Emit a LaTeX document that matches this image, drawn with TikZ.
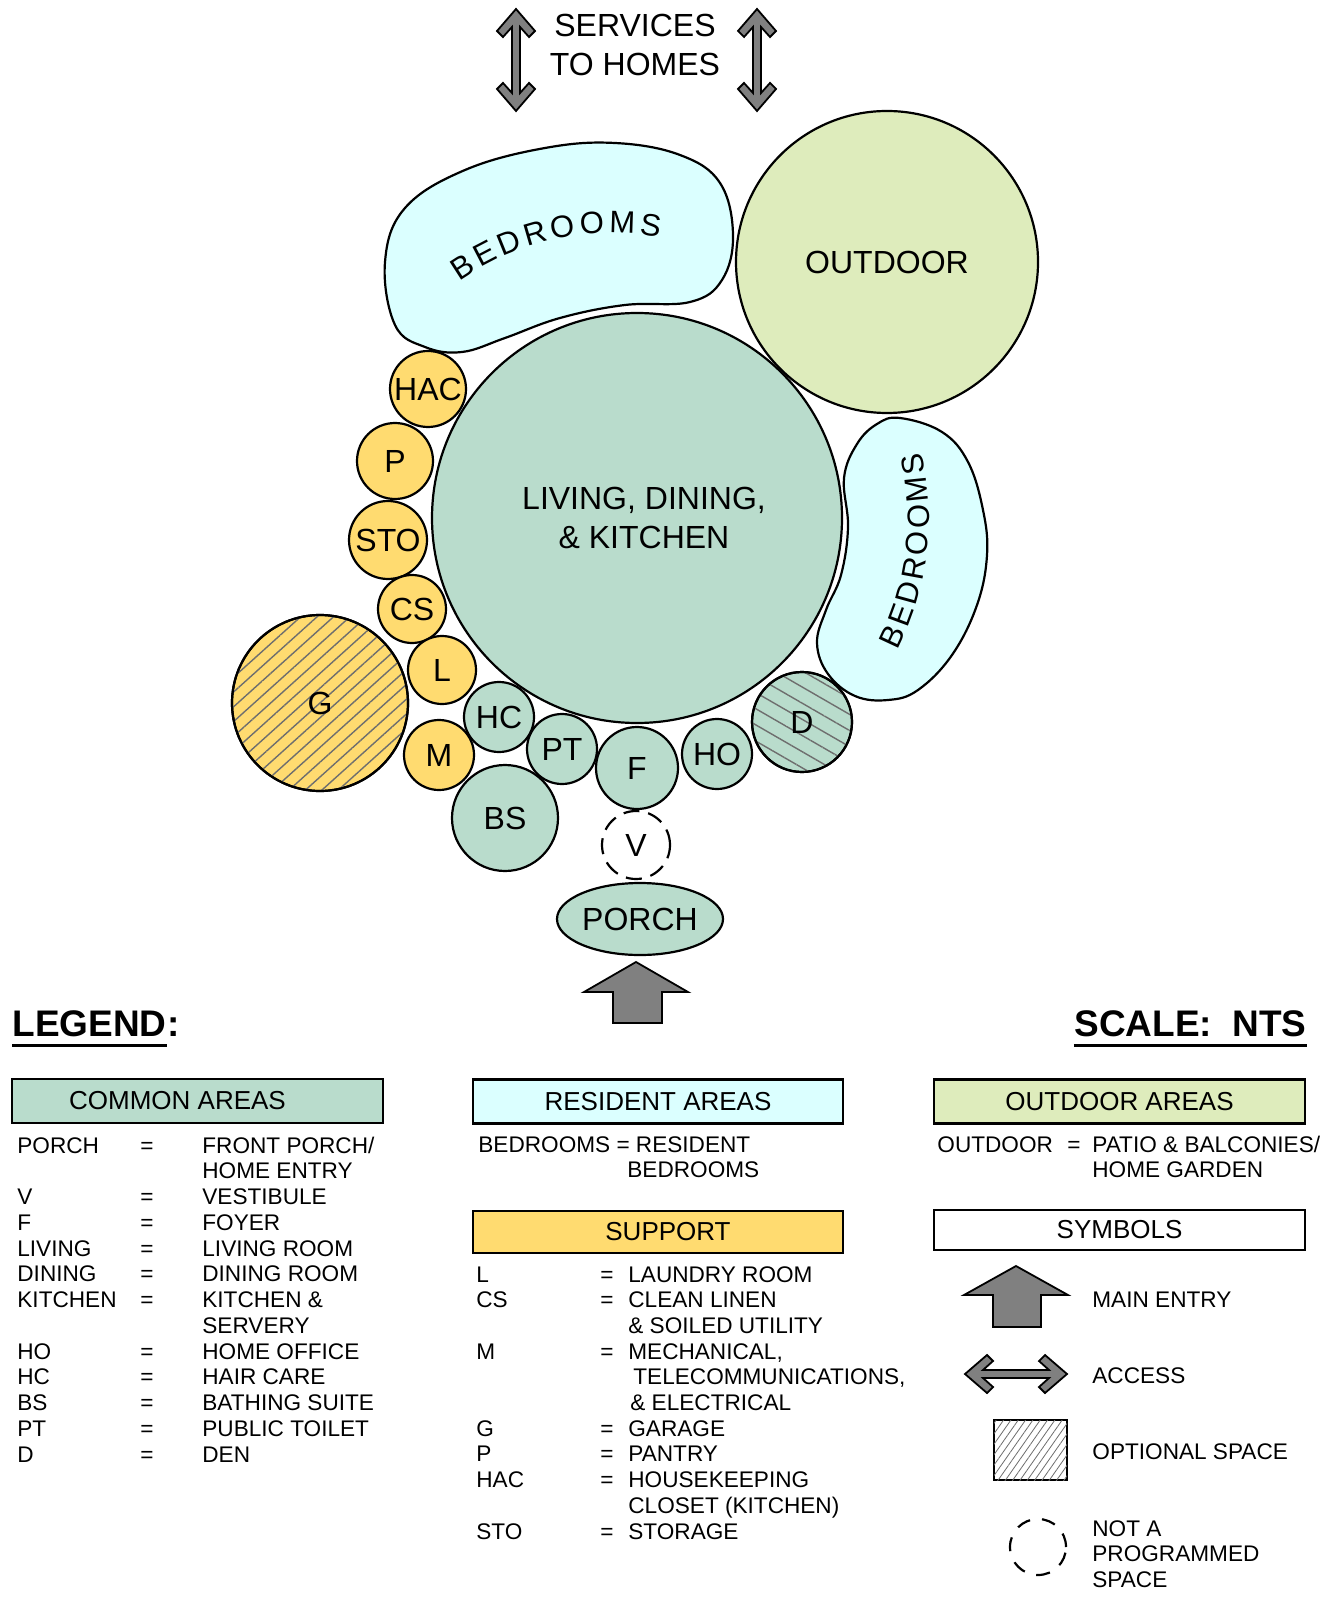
\documentclass[tikz,border=0pt]{standalone}
\usepackage{fontspec}
\setmainfont{Liberation Sans}
\usepackage{tikz}
\usetikzlibrary{positioning, shapes.geometric, patterns.meta, decorations.text}
\usepackage{xcolor}

\definecolor{commongreen}{RGB}{185,220,204}
\definecolor{residentblue}{RGB}{219,255,255}
\definecolor{outdoorgreen}{RGB}{222,236,188}
\definecolor{supportyellow}{RGB}{255,219,112}
\definecolor{arrowgray}{RGB}{128,128,128}
\definecolor{hatchgray}{RGB}{110,110,110}

\tikzset{
    bubble/.style={draw, line width=1.1pt, inner sep=0pt, font=\fontsize{16}{19.5}\selectfont},
    common/.style={bubble, circle, fill=commongreen},
    support/.style={bubble, circle, fill=supportyellow},
    hatched/.style 2 args={postaction={pattern={Lines[angle=#1, distance=#2, line width=0.7pt]}, pattern color=hatchgray, draw}},
    notprogrammed/.style={bubble, circle, dash pattern=on 8pt off 4.5pt},
    resident/.style={draw, line width=1.1pt, fill=residentblue},
    arrowshape/.style={draw, line width=0.9pt, fill=arrowgray, line join=miter},
    legendhead/.style={draw, line width=1.2pt, minimum height=22pt, inner sep=0pt, font=\fontsize{13}{15}\selectfont},
    legtext/.style={anchor=base west, inner sep=0pt, font=\fontsize{11.3}{13}\selectfont},
    symtext/.style={anchor=west, inner sep=0pt, align=left, font=\fontsize{11.3}{12.85}\selectfont},
    titletext/.style={inner sep=0pt, font=\bfseries\fontsize{18.5}{22}\selectfont},
    bedtext/.style={decorate, decoration={text along path, text align=fit to path, text={|\fontsize{15.5}{15.5}\selectfont|BEDROOMS}}}
}

\begin{document}
\begin{tikzpicture}[x=0.5pt, y=-0.5pt]
        \path[use as bounding box, fill=white] (0,0) rectangle (1325,1598);

        %coordinates
        \coordinate (svcleft)   at (516,60);
        \coordinate (svcright)  at (757,60);
        \coordinate (entrytip)  at (636,962);
        \coordinate (entrysym)  at (1016,1266);
        \coordinate (accesssym) at (1016,1374);

        %services arrows
        \node[bubble, draw=none, align=center] (services) at (635,45) {SERVICES\\TO HOMES};
        \draw[arrowshape, shift={(svcleft)}] (0,-51) -- (19,-29) -- (13,-23) -- (4,-33) -- (4,33) -- (13,23) -- (19,29) -- (0,51) -- (-19,29) -- (-13,23) -- (-4,33) -- (-4,-33) -- (-13,-23) -- (-19,-29) -- cycle;
        \draw[arrowshape, shift={(svcright)}] (0,-51) -- (19,-29) -- (13,-23) -- (4,-33) -- (4,33) -- (13,23) -- (19,29) -- (0,51) -- (-19,29) -- (-13,23) -- (-4,33) -- (-4,-33) -- (-13,-23) -- (-19,-29) -- cycle;

        %bedrooms
        \draw[resident] plot[smooth cycle, tension=0.65] coordinates {(385,262) (405,208) (465,170) (545,148) (615,143) (680,155) (720,183) (733,235) (722,280) (690,302) (625,305) (560,318) (505,338) (462,352) (425,347) (395,325)};
        \path[bedtext] (613,501) ++(-125:268) arc[start angle=-125, end angle=-80, radius=268];
        \draw[resident] plot[smooth cycle, tension=0.65] coordinates {(900,418) (942,432) (968,462) (983,510) (987,555) (977,605) (952,655) (918,690) (888,700) (855,696) (828,674) (817,643) (826,610) (841,575) (848,527) (844,478) (857,444) (877,424)};
        \path[bedtext] (637,518) ++(27:292) arc[start angle=27, end angle=-13, radius=292];

        %nodes
        \node[bubble, circle, fill=outdoorgreen, minimum size=151pt] (outdoor) at (887,262) {OUTDOOR};
        \node[common, minimum size=205pt, align=center] (living) at (637,518) {\hspace*{7pt}LIVING, DINING,\\\hspace*{7pt}\& KITCHEN};

        \node[support, minimum size=38pt] (hac) at (428,389) {HAC};
        \node[support, minimum size=38pt] (pantry) at (395,461) {P};
        \node[support, minimum size=39pt] (sto) at (388,540) {STO};
        \node[support, minimum size=34pt] (cs) at (412,609) {CS};
        \node[support, minimum size=34pt] (laundry) at (442,670) {L};
        \node[support, minimum size=88pt, hatched={42}{5.5pt}] (garage) at (320,703) {G};
        \node[support, minimum size=35pt] (mech) at (439,755) {M};

        \node[common, minimum size=35pt] (haircare) at (499,717) {HC};
        \node[common, minimum size=35pt] (ptoilet) at (562,749) {PT};
        \node[common, minimum size=41pt] (foyer) at (637,768) {F};
        \node[common, minimum size=35pt] (homeoffice) at (717,754) {HO};
        \node[common, minimum size=50pt, hatched={-30}{7pt}] (den) at (802,722) {D};
        \node[common, minimum size=53pt] (bath) at (505,818) {BS};
        \node[notprogrammed, minimum size=34pt] (vest) at (636,845) {V};
        \node[bubble, ellipse, fill=commongreen, minimum width=83pt, minimum height=36pt] (porch) at (640,919) {PORCH};

        %main entry
        \draw[arrowshape] (entrytip) -- ++(52,30) -- ++(-26,0) -- ++(0,31) -- ++(-49,0) -- ++(0,-31) -- ++(-29,0) -- cycle;

        %legend titles
        \node[titletext, anchor=base west, text depth=4.5pt] (legword) at (12,1036) {LEGEND};
        \node[titletext, anchor=base west] (legcolon) at (legword.base east) {:};
        \draw[line width=1.5pt] (legword.south west) -- (legword.south east);
        \node[titletext, anchor=base east, text depth=4.5pt] (scale) at (1307,1036) {SCALE:\ \ NTS};
        \draw[line width=1.5pt] (scale.south west) -- (scale.south east);

        %common areas
        \node[legendhead, fill=commongreen, minimum width=185.5pt] (commonhead) at (197.5,1101) {\hspace*{-20pt}COMMON AREAS};
        \node[legtext] (cporch) at (17,1153) {\makebox[61.5pt][l]{PORCH}\makebox[31pt][l]{=}FRONT PORCH/};
        \node[legtext] (cporch2) at (202,1178.75) {HOME ENTRY};
        \node[legtext] (cvest) at (17,1204.5) {\makebox[61.5pt][l]{V}\makebox[31pt][l]{=}VESTIBULE};
        \node[legtext] (cfoyer) at (17,1230.25) {\makebox[61.5pt][l]{F}\makebox[31pt][l]{=}FOYER};
        \node[legtext] (cliving) at (17,1256) {\makebox[61.5pt][l]{LIVING}\makebox[31pt][l]{=}LIVING ROOM};
        \node[legtext] (cdining) at (17,1281.75) {\makebox[61.5pt][l]{DINING}\makebox[31pt][l]{=}DINING ROOM};
        \node[legtext] (ckitchen) at (17,1307.5) {\makebox[61.5pt][l]{KITCHEN}\makebox[31pt][l]{=}KITCHEN \&};
        \node[legtext] (ckitchen2) at (202,1333.25) {SERVERY};
        \node[legtext] (chome) at (17,1359) {\makebox[61.5pt][l]{HO}\makebox[31pt][l]{=}HOME OFFICE};
        \node[legtext] (chair) at (17,1384.75) {\makebox[61.5pt][l]{HC}\makebox[31pt][l]{=}HAIR CARE};
        \node[legtext] (cbath) at (17,1410.5) {\makebox[61.5pt][l]{BS}\makebox[31pt][l]{=}BATHING SUITE};
        \node[legtext] (ctoilet) at (17,1436.25) {\makebox[61.5pt][l]{PT}\makebox[31pt][l]{=}PUBLIC TOILET};
        \node[legtext] (cden) at (17,1462) {\makebox[61.5pt][l]{D}\makebox[31pt][l]{=}DEN};

        %resident areas
        \node[legendhead, fill=residentblue, minimum width=185pt] (residenthead) at (658,1101.5) {RESIDENT AREAS};
        \node[legtext] (rbed) at (478,1152) {BEDROOMS = RESIDENT};
        \node[legtext] (rbed2) at (627,1177) {BEDROOMS};

        %support
        \node[legendhead, fill=supportyellow, minimum width=185pt, minimum height=21pt] (supporthead) at (658,1232) {\hspace*{10pt}SUPPORT};
        \node[legtext] (slaundry) at (476,1282) {\makebox[62pt][l]{L}\makebox[14pt][l]{=}LAUNDRY ROOM};
        \node[legtext] (scs) at (476,1307.7) {\makebox[62pt][l]{CS}\makebox[14pt][l]{=}CLEAN LINEN};
        \node[legtext] (scs2) at (628,1333.4) {\& SOILED UTILITY};
        \node[legtext] (smech) at (476,1359.1) {\makebox[62pt][l]{M}\makebox[14pt][l]{=}MECHANICAL,};
        \node[legtext] (smech2) at (633,1384.8) {TELECOMMUNICATIONS,};
        \node[legtext] (smech3) at (630,1410.5) {\& ELECTRICAL};
        \node[legtext] (sgarage) at (476,1436.2) {\makebox[62pt][l]{G}\makebox[14pt][l]{=}GARAGE};
        \node[legtext] (spantry) at (476,1461.9) {\makebox[62pt][l]{P}\makebox[14pt][l]{=}PANTRY};
        \node[legtext] (shac) at (476,1487.6) {\makebox[62pt][l]{HAC}\makebox[14pt][l]{=}HOUSEKEEPING};
        \node[legtext] (shac2) at (628,1513.3) {CLOSET (KITCHEN)};
        \node[legtext] (ssto) at (476,1539) {\makebox[62pt][l]{STO}\makebox[14pt][l]{=}STORAGE};

        %outdoor areas
        \node[legendhead, fill=outdoorgreen, minimum width=185.5pt] (outdoorhead) at (1119.5,1101.5) {OUTDOOR AREAS};
        \node[legtext] (ooutdoor) at (937,1152) {\makebox[65pt][l]{OUTDOOR}\makebox[12.5pt][l]{=}PATIO \& BALCONIES/};
        \node[legtext] (ooutdoor2) at (1092,1177) {HOME GARDEN};

        %symbols
        \node[legendhead, fill=white, minimum width=185.5pt, minimum height=20pt] (symbolhead) at (1119.5,1230) {SYMBOLS};
        \draw[arrowshape] (entrysym) -- ++(52,29) -- ++(-27,0) -- ++(0,32) -- ++(-48,0) -- ++(0,-32) -- ++(-29,0) -- cycle;
        \node[symtext] (symentry) at (1092,1300) {MAIN ENTRY};
        \draw[arrowshape, shift={(accesssym)}, rotate=90] (0,-51) -- (19,-29) -- (13,-23) -- (4,-33) -- (4,33) -- (13,23) -- (19,29) -- (0,51) -- (-19,29) -- (-13,23) -- (-4,33) -- (-4,-33) -- (-13,-23) -- (-19,-29) -- cycle;
        \node[symtext] (symaccess) at (1092,1376) {ACCESS};
        \node[draw, line width=1pt, fill=white, minimum width=36.5pt, minimum height=30pt, postaction={pattern={Lines[angle=55, distance=3pt, line width=0.4pt]}, pattern color=hatchgray}] (optbox) at (1030.5,1450) {};
        \node[symtext] (symoptional) at (1092,1452) {OPTIONAL SPACE};
        \node[notprogrammed, minimum size=28pt, dash pattern=on 7pt off 6pt] (notprog) at (1038,1547) {};
        \node[symtext] (symnotprog) at (1092,1554) {NOT A\\PROGRAMMED\\SPACE};
    \end{tikzpicture}
\end{document}
